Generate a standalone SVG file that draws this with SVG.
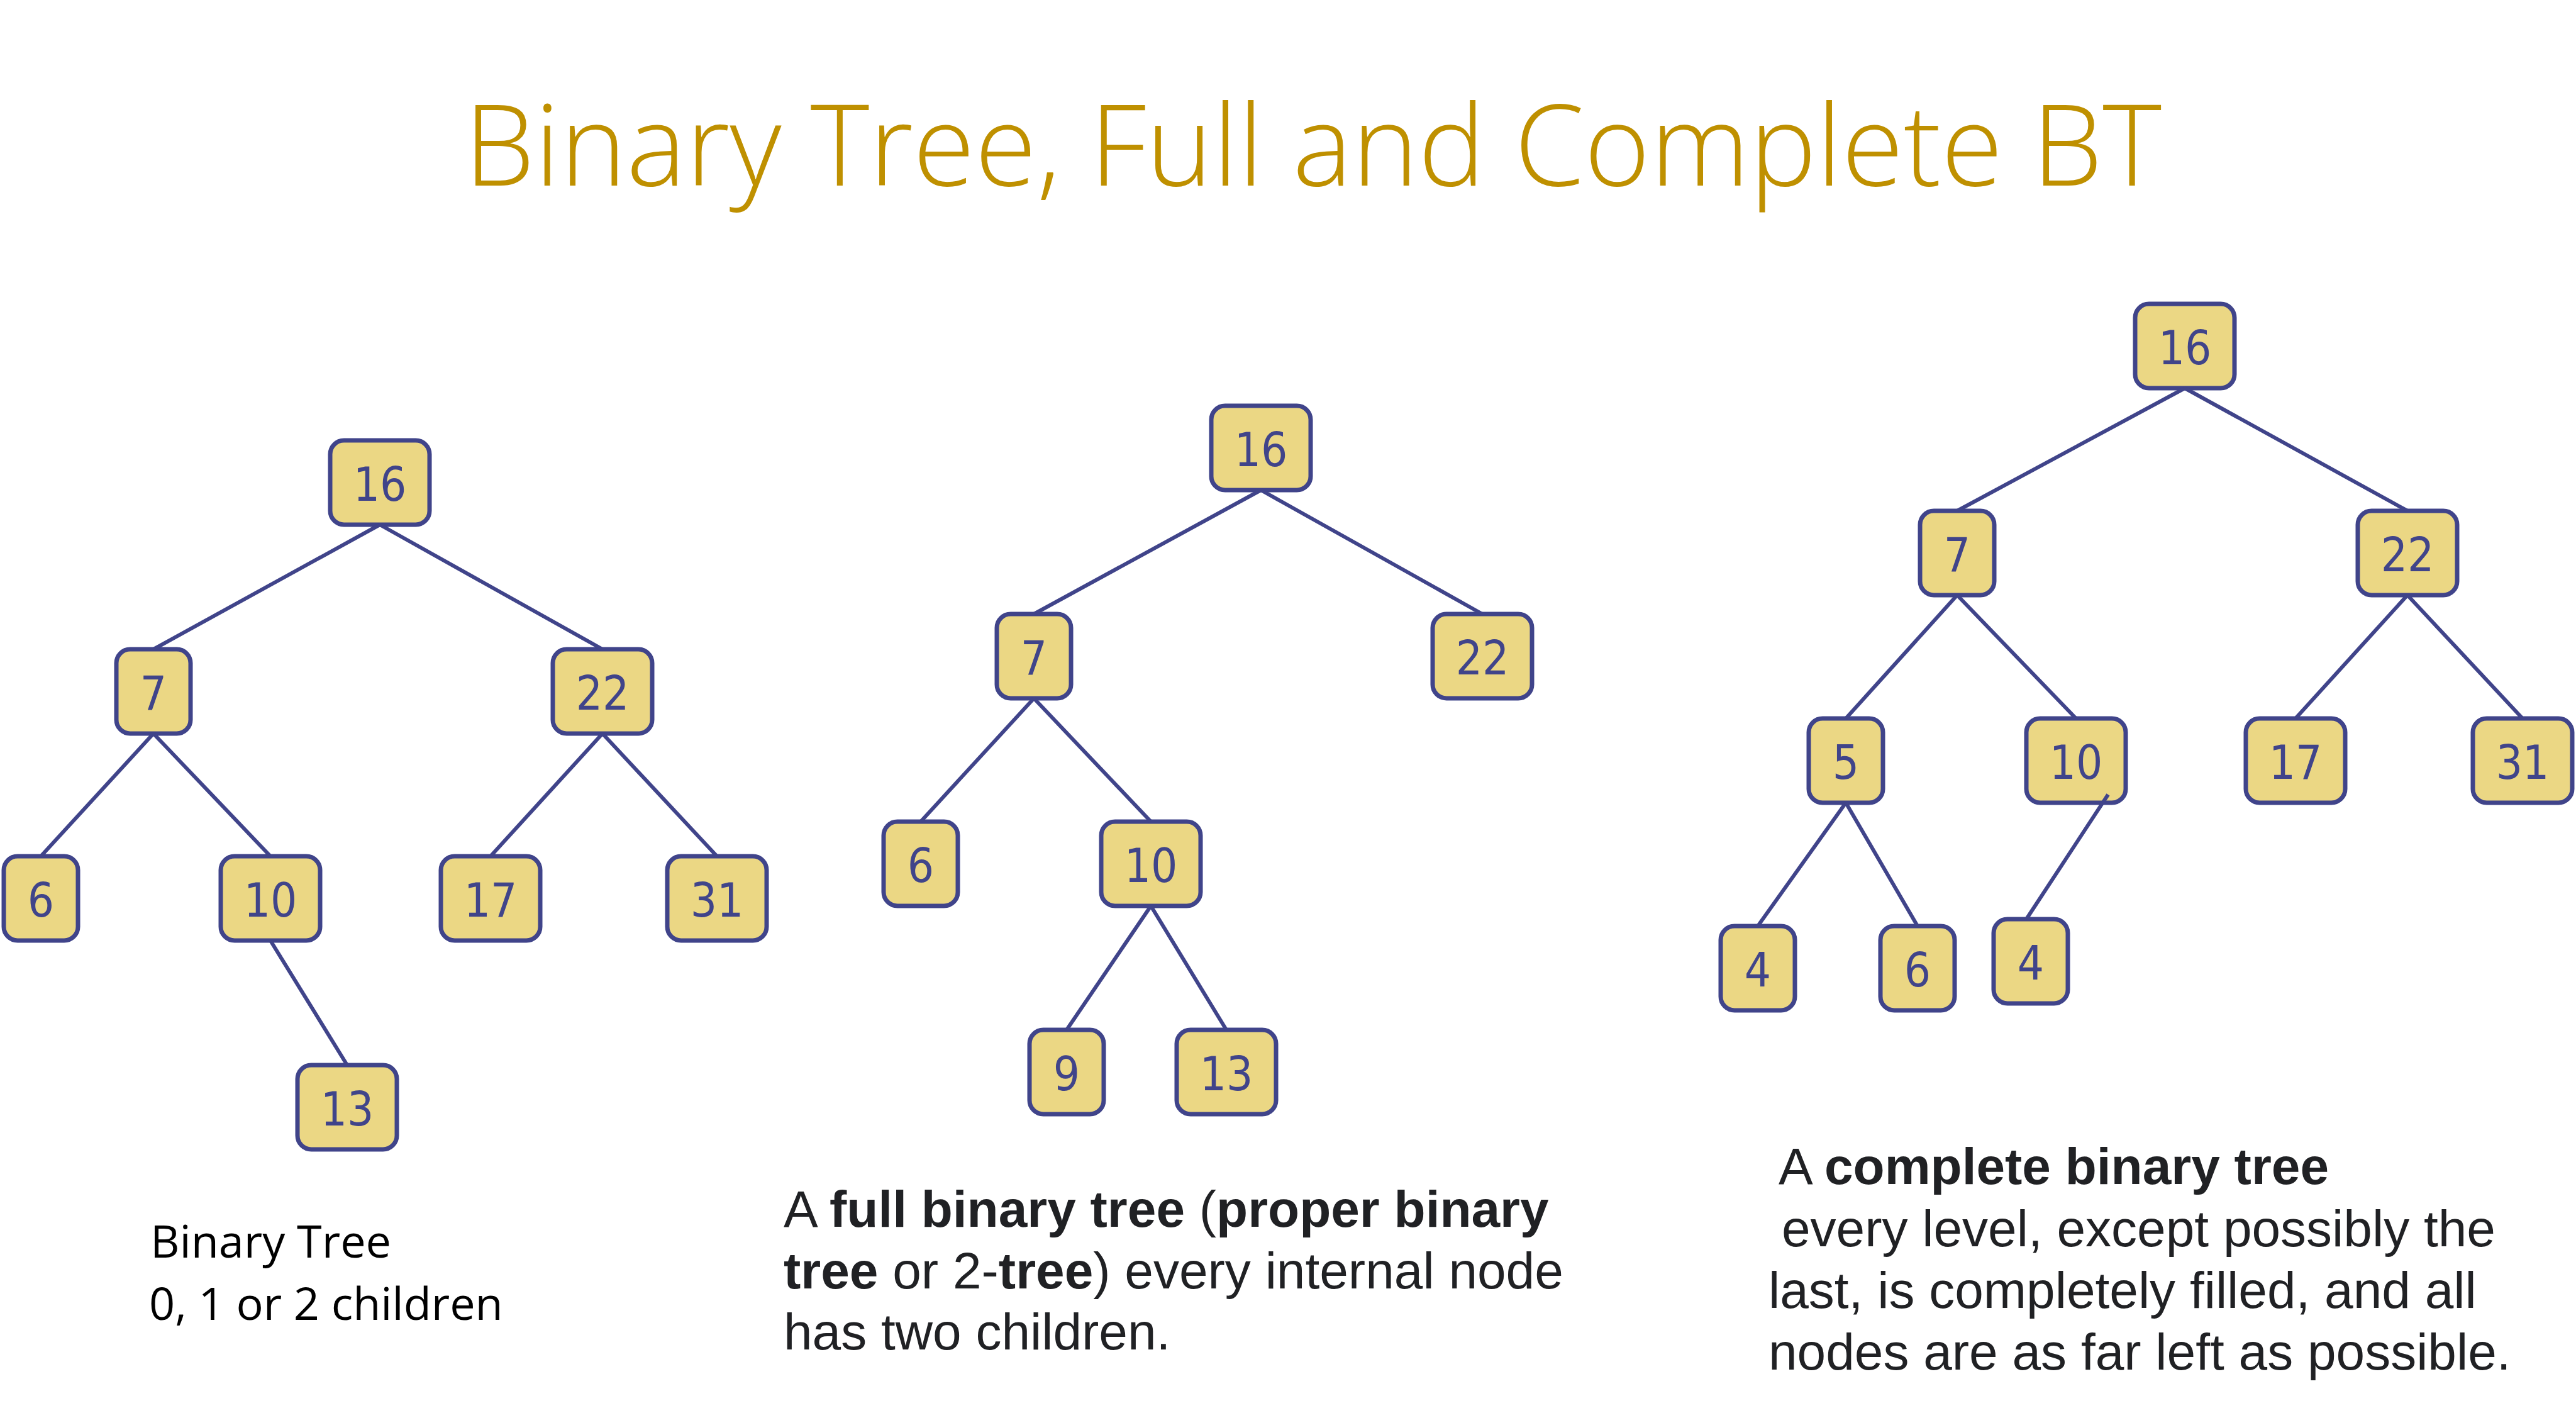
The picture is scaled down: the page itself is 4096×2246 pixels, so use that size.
<svg xmlns="http://www.w3.org/2000/svg" width="4096" height="2246" viewBox="0 0 4096 2246">
  <style>
    .node rect { fill: #EBD784; stroke: #40448A; stroke-width: 7; }
    .node text { fill: #40448A; font-family: "DejaVu Sans Condensed", "DejaVu Sans", sans-serif; font-stretch: condensed; font-size: 74px; text-anchor: middle; }
    .edges line { stroke: #40448A; stroke-width: 6; stroke-linecap: butt; }
    .title { fill: #BF9000; font-family: "Open Sans", "Noto Sans", sans-serif; font-weight: 300; font-size: 179px; }
    .cap1 { fill: #000000; font-family: "Open Sans", "Noto Sans", sans-serif; font-size: 72px; }
    .cap { fill: #202124; font-family: "Liberation Sans", Arial, sans-serif; font-size: 82px; }
    .b { font-weight: bold; }
  </style>

  <rect width="4096" height="2246" fill="#FFFFFF"/>

  <text class="title" x="738" y="295" textLength="2699" lengthAdjust="spacing">Binary Tree, Full and Complete BT</text>

  <!-- Tree 1: generic binary tree -->
  <g id="t1-n16" class="node" transform="translate(604,767)"><rect x="-79" y="-67" width="158" height="134" rx="22"/><text y="29">16</text></g>
  <g id="t1-n7" class="node" transform="translate(244,1099)"><rect x="-59" y="-67" width="118" height="134" rx="22"/><text y="29">7</text></g>
  <g id="t1-n22" class="node" transform="translate(958,1099)"><rect x="-79" y="-67" width="158" height="134" rx="22"/><text y="29">22</text></g>
  <g id="t1-n6" class="node" transform="translate(65,1428)"><rect x="-59" y="-67" width="118" height="134" rx="22"/><text y="29">6</text></g>
  <g id="t1-n10" class="node" transform="translate(430,1428)"><rect x="-79" y="-67" width="158" height="134" rx="22"/><text y="29">10</text></g>
  <g id="t1-n17" class="node" transform="translate(780,1428)"><rect x="-79" y="-67" width="158" height="134" rx="22"/><text y="29">17</text></g>
  <g id="t1-n31" class="node" transform="translate(1140,1428)"><rect x="-79" y="-67" width="158" height="134" rx="22"/><text y="29">31</text></g>
  <g id="t1-n13" class="node" transform="translate(552,1760)"><rect x="-79" y="-67" width="158" height="134" rx="22"/><text y="29">13</text></g>

  <!-- Tree 2: full binary tree -->
  <g id="t2-n16" class="node" transform="translate(2005,712)"><rect x="-79" y="-67" width="158" height="134" rx="22"/><text y="29">16</text></g>
  <g id="t2-n7" class="node" transform="translate(1644,1043)"><rect x="-59" y="-67" width="118" height="134" rx="22"/><text y="29">7</text></g>
  <g id="t2-n22" class="node" transform="translate(2357,1043)"><rect x="-79" y="-67" width="158" height="134" rx="22"/><text y="29">22</text></g>
  <g id="t2-n6" class="node" transform="translate(1464,1373)"><rect x="-59" y="-67" width="118" height="134" rx="22"/><text y="29">6</text></g>
  <g id="t2-n10" class="node" transform="translate(1830,1373)"><rect x="-79" y="-67" width="158" height="134" rx="22"/><text y="29">10</text></g>
  <g id="t2-n9" class="node" transform="translate(1696,1704)"><rect x="-59" y="-67" width="118" height="134" rx="22"/><text y="29">9</text></g>
  <g id="t2-n13" class="node" transform="translate(1950,1704)"><rect x="-79" y="-67" width="158" height="134" rx="22"/><text y="29">13</text></g>

  <!-- Tree 3: complete binary tree -->
  <g id="t3-n16" class="node" transform="translate(3474,550)"><rect x="-79" y="-67" width="158" height="134" rx="22"/><text y="29">16</text></g>
  <g id="t3-n7" class="node" transform="translate(3112,879)"><rect x="-59" y="-67" width="118" height="134" rx="22"/><text y="29">7</text></g>
  <g id="t3-n22" class="node" transform="translate(3828,879)"><rect x="-79" y="-67" width="158" height="134" rx="22"/><text y="29">22</text></g>
  <g id="t3-n5" class="node" transform="translate(2935,1209)"><rect x="-59" y="-67" width="118" height="134" rx="22"/><text y="29">5</text></g>
  <g id="t3-n10" class="node" transform="translate(3301,1209)"><rect x="-79" y="-67" width="158" height="134" rx="22"/><text y="29">10</text></g>
  <g id="t3-n17" class="node" transform="translate(3650,1209)"><rect x="-79" y="-67" width="158" height="134" rx="22"/><text y="29">17</text></g>
  <g id="t3-n31" class="node" transform="translate(4011,1209)"><rect x="-79" y="-67" width="158" height="134" rx="22"/><text y="29">31</text></g>
  <g id="t3-n4a" class="node" transform="translate(2795,1539)"><rect x="-59" y="-67" width="118" height="134" rx="22"/><text y="29">4</text></g>
  <g id="t3-n6" class="node" transform="translate(3049,1539)"><rect x="-59" y="-67" width="118" height="134" rx="22"/><text y="29">6</text></g>
  <g id="t3-n4b" class="node" transform="translate(3229,1528)"><rect x="-59" y="-67" width="118" height="134" rx="22"/><text y="29">4</text></g>

  <!-- Parent-child connectors -->
  <g id="connectors" class="edges">
    <line x1="604" y1="834" x2="244" y2="1032"/>
    <line x1="604" y1="834" x2="958" y2="1032"/>
    <line x1="244" y1="1166" x2="65" y2="1361"/>
    <line x1="244" y1="1166" x2="430" y2="1361"/>
    <line x1="958" y1="1166" x2="780" y2="1361"/>
    <line x1="958" y1="1166" x2="1140" y2="1361"/>
    <line x1="430" y1="1495" x2="552" y2="1693"/>

    <line x1="2005" y1="779" x2="1644" y2="976"/>
    <line x1="2005" y1="779" x2="2357" y2="976"/>
    <line x1="1644" y1="1110" x2="1464" y2="1306"/>
    <line x1="1644" y1="1110" x2="1830" y2="1306"/>
    <line x1="1830" y1="1440" x2="1696" y2="1637"/>
    <line x1="1830" y1="1440" x2="1950" y2="1637"/>

    <line x1="3474" y1="617" x2="3112" y2="812"/>
    <line x1="3474" y1="617" x2="3828" y2="812"/>
    <line x1="3112" y1="946" x2="2935" y2="1142"/>
    <line x1="3112" y1="946" x2="3301" y2="1142"/>
    <line x1="3828" y1="946" x2="3650" y2="1142"/>
    <line x1="3828" y1="946" x2="4011" y2="1142"/>
    <line x1="2935" y1="1276" x2="2795" y2="1472"/>
    <line x1="2935" y1="1276" x2="3049" y2="1472"/>
    <line x1="3352" y1="1263" x2="3222" y2="1461"/>
  </g>

  <!-- Captions -->
  <g id="caption-left" class="cap1">
    <text x="239" y="1999">Binary Tree</text>
    <text x="237" y="2098">0, 1 or 2 children</text>
  </g>
  <g id="caption-middle" class="cap">
    <text x="1246" y="1950">A <tspan class="b">full binary tree</tspan> (<tspan class="b">proper binary</tspan></text>
    <text x="1246" y="2048"><tspan class="b">tree</tspan> or 2-<tspan class="b">tree</tspan>) every internal node</text>
    <text x="1246" y="2145">has two children.</text>
  </g>
  <g id="caption-right" class="cap">
    <text x="2828" y="1882">A <tspan class="b">complete binary tree</tspan></text>
    <text x="2833" y="1981">every level, except possibly the</text>
    <text x="2812" y="2079">last, is completely filled, and all</text>
    <text x="2812" y="2177">nodes are as far left as possible.</text>
  </g>
</svg>
